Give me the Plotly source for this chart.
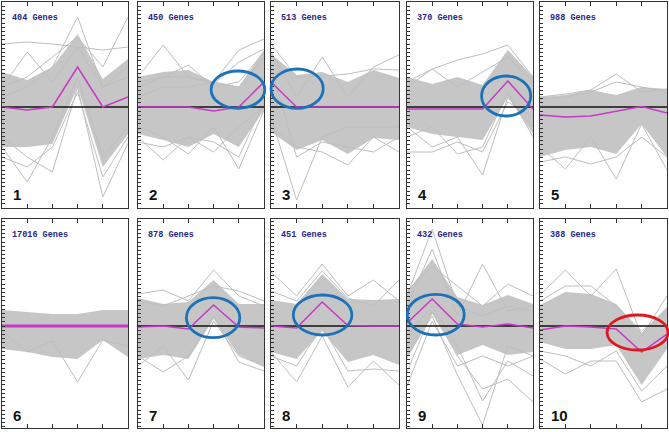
import plotly.graph_objects as go

# ---------------- data (units: expression change) ----------------
time_points = [0, 1, 2, 3, 4, 5]
x_tick_values = [1, 2, 3, 4]
gene_counts = [404, 450, 513, 370, 988, 17016, 878, 451, 432, 388]
panel_labels = ["1", "2", "3", "4", "5", "6", "7", "8", "9", "10"]
baseline = [0, 0, 0, 0, 0, 0]

mean_1 = [0, -0.3, 0, 4.0, 0, 1.0]
upper_1 = [3.5, 2.7, 4.0, 7.3, 2.8, 4.8]
lower_1 = [-4.0, -4.0, -3.7, 2.0, -6.0, -2.7]
outliers_1 = [[6.3, 6.5, 6.3, 6.0, 5.7, 6.0], [2, 3, 5, 7, 4, 9], [2, 5.5, 2.5, 6, 2, 4],
              [1, 2, 4, 9, 2, 3], [-4, -7.5, -3, 3, -5, -2], [-3, -5, -6.5, 2, -9, -3.6],
              [-5, -6, -4, 1.5, -7, -3]]

mean_2 = [0, 0, 0, -0.4, 0, 2.5]
upper_2 = [3.0, 3.5, 3.7, 2.5, 2.0, 5.7]
lower_2 = [-2.7, -3.3, -4.0, -2.7, -4.0, -0.3]
outliers_2 = [[3, 6.2, 3, 2.5, 2, 5], [2.5, 3, 4.2, 2, 2.5, 5.5], [1, 2, 2, 2.5, 5.7, 6.8],
              [2, 3, 3, 2.3, 4.5, 5.8], [-3, -5.3, -3, -4.5, -2, 0], [-2, -3, -4.7, -2, -6.2, -0.3],
              [-3.5, -4, -3, -3.5, -5, 0.5]]

mean_3 = [2.5, 0, 0, 0, 0, 0]
upper_3 = [5.3, 3.2, 3.5, 2.5, 3.7, 2.9]
lower_3 = [-2.5, -4.3, -3.3, -4.7, -3.1, -3.3]
outliers_3 = [[6.3, 3.0, 3.1, 3.3, 3.8, 3.7], [5.5, 1, 5, 1, 4, 5.2], [-1, -9.3, -3, -2, -2, -2],
              [-2, -4, -4.5, -5.8, -3, -4.5], [4, -5, -3.5, -4, -4.5, -3]]

mean_4 = [-0.2, -0.2, -0.2, -0.2, 2.6, -0.2]
upper_4 = [3.0, 2.3, 3.0, 2.2, 5.7, 3.0]
lower_4 = [-2.0, -2.7, -3.0, -3.3, 1.0, -2.7]
outliers_4 = [[2, 3.8, 4.7, 5.3, 6.2, 3], [2.5, 3.8, 2, 3.5, 5, 2.5], [-2, -4, -3, -6.8, 1, -2],
              [-3, -2, -4.7, -4, 1.5, -3], [-4.5, -4.5, -3.5, -4.5, 0.5, -1]]

mean_5 = [-0.8, -1.0, -0.9, -0.4, 0.05, -0.6]
upper_5 = [1.0, 1.2, 1.7, 1.2, 2.0, 1.8]
lower_5 = [-5.0, -4.3, -4.0, -4.7, -1.7, -5.0]
outliers_5 = [[1, 1.3, 1.7, 3.3, 1.5, 1.8], [0.8, 1, 1.5, 2.5, 2, 1.5],
              [-4, -6.2, -3, -7.2, -1.7, -6.3], [-5.5, -5, -5.7, -5, -3, -5]]

mean_6 = [0, 0, 0, 0, 0, 0]
upper_6 = [1.6, 1.4, 1.2, 1.2, 1.6, 1.6]
lower_6 = [-2.3, -2.6, -3.1, -3.3, -1.4, -3.1]
outliers_6 = [[-0.5, -2.6, -1.5, -5.6, -1.4, -2]]

mean_7 = [-0.1, 0, -0.3, 2.1, -0.1, -0.2]
upper_7 = [2.8, 2.2, 2.4, 4.6, 2.2, 2.2]
lower_7 = [-3.3, -2.9, -3.3, 0.7, -2.9, -4.1]
outliers_7 = [[3.2, 3.6, 2.5, 5.6, 3.0, 2.0], [2.5, 2.0, 3.0, 4.0, 3.5, 2.5],
              [-4, -2, -5.4, 0.5, -3, -4], [-3, -4.6, -3, 1, -3.6, -4.5]]

mean_8 = [0, -0.2, 2.4, 0.05, 0, 0]
upper_8 = [2.6, 2.2, 5.2, 2.7, 2.6, 2.7]
lower_8 = [-2.6, -3.3, -0.5, -3.6, -2.9, -3.9]
outliers_8 = [[5.4, 3, 6.2, 3, 4.6, 2.5], [3.5, 2.5, 5.5, 2.8, 2, 4.6],
              [-2.6, -5.6, -1, -6.1, -3.5, -5.9], [-3, -4, 0, -4.5, -4.3, -4.5]]

mean_9 = [0.3, 2.7, 0.2, -0.1, 0.2, -0.2]
upper_9 = [3.4, 6.7, 2.9, 2.1, 3.1, 2.2]
lower_9 = [-3.3, 1.2, -2.9, -1.9, -2.9, -2.6]
outliers_9 = [[3, 9.7, 2, 1, 2, 1.5], [2, 7.7, 1, 6.2, 1.5, 2], [3.5, 6, 4, 2, 4.2, 3],
              [-3, 1, -4.9, -9.9, -2, -3], [-4.6, 1.5, -3, -6.3, -5.3, -7.6],
              [-1, 2, -2, -7.5, -3.5, -5], [-6, 0.5, -4, -3, -4, -3]]

mean_10 = [-0.4, 0, -0.1, -0.3, -2.6, -0.8]
upper_10 = [2.1, 3.4, 3.2, 2.2, -0.7, 1.9]
lower_10 = [-1.6, -2.3, -2.3, -1.9, -5.9, -2.3]
outliers_10 = [[3.1, 5.6, 3, 5.7, -1, 3], [2.5, 4, 4, 2, -0.5, 1.5],
               [-3.3, -4.8, -3.5, -3.5, -7.6, -6.3], [-2.5, -3, -4, -2.5, -6.5, -4]]

# highlighted regions: (panel, time from, time to, value from, value to, colour key)
highlights = [(2, 2.9, 5.03, -0.13, 3.6, "blue"), (3, 0.0, 2.04, -0.13, 3.8, "blue"),
              (4, 2.96, 4.91, -0.9, 3.1, "blue"), (7, 1.92, 4.04, -1.17, 2.83, "blue"),
              (8, 0.87, 3.16, -0.9, 3.1, "blue"), (9, 0.01, 2.27, -0.9, 3.17, "blue"),
              (10, 2.64, 5.04, -2.4, 1.1, "red")]

means = [mean_1, mean_2, mean_3, mean_4, mean_5, mean_6, mean_7, mean_8, mean_9, mean_10]
uppers = [upper_1, upper_2, upper_3, upper_4, upper_5, upper_6, upper_7, upper_8, upper_9, upper_10]
lowers = [lower_1, lower_2, lower_3, lower_4, lower_5, lower_6, lower_7, lower_8, lower_9, lower_10]
outliers = [outliers_1, outliers_2, outliers_3, outliers_4, outliers_5, outliers_6,
            outliers_7, outliers_8, outliers_9, outliers_10]

# ---------------- layout geometry (pixels) ----------------
W, H = 669, 432
col_px = [(2, 128), (138, 264), (271, 399), (407, 533), (540, 667)]
row_px = [(2, 208), (219, 428)]
row_ranges = [[-10.1, 10.5], [-10.2, 10.7]]

GRAY = "#c6c6c6"
LINE_GRAY = "#bebebe"
MAGENTA = "#c63ac6"
RING = {"blue": "#1c72b8", "red": "#e2161e"}

fig = go.Figure()
layout = dict(width=W, height=H, margin=dict(l=0, r=0, t=0, b=0),
              paper_bgcolor="white", plot_bgcolor="white", showlegend=False)
annotations = []
shapes = []

for i in range(10):
    n = i + 1
    r, c = divmod(i, 5)
    xa = "x" if n == 1 else f"x{n}"
    ya = "y" if n == 1 else f"y{n}"
    x0p, x1p = col_px[c]
    y0p, y1p = row_px[r]
    layout[f"xaxis{'' if n == 1 else n}"] = dict(
        domain=[x0p / W, x1p / W], anchor=ya, range=[0, 5],
        tickvals=x_tick_values, ticks="inside", ticklen=4, tickcolor="#333",
        showticklabels=False, showgrid=False, zeroline=False,
        showline=True, linecolor="#333", linewidth=1.2, mirror="ticks")
    layout[f"yaxis{'' if n == 1 else n}"] = dict(
        domain=[1 - y1p / H, 1 - y0p / H], anchor=xa, range=row_ranges[r],
        tick0=0, dtick=0.42, ticks="inside", ticklen=3, tickcolor="#333",
        showticklabels=False, showgrid=False, zeroline=False,
        showline=True, linecolor="#333", linewidth=1.2, mirror=True)

    # dense band of gene profiles
    fig.add_trace(go.Scatter(x=time_points + time_points[::-1],
                             y=uppers[i] + lowers[i][::-1],
                             fill="toself", fillcolor=GRAY, line=dict(width=0),
                             mode="lines", xaxis=xa, yaxis=ya, hoverinfo="skip"))
    for prof in outliers[i]:
        fig.add_trace(go.Scatter(x=time_points, y=prof, mode="lines",
                                 line=dict(color=LINE_GRAY, width=1), xaxis=xa, yaxis=ya,
                                 hoverinfo="skip"))
    # baseline
    fig.add_trace(go.Scatter(x=time_points, y=baseline, mode="lines",
                             line=dict(color="#111", width=1.3), xaxis=xa, yaxis=ya,
                             hoverinfo="skip"))
    # cluster mean
    fig.add_trace(go.Scatter(x=time_points, y=means[i], mode="lines",
                             line=dict(color=MAGENTA, width=3 if n == 6 else 1.5),
                             xaxis=xa, yaxis=ya))

    ph = y1p - y0p
    annotations.append(dict(text=f"<b>{gene_counts[i]} Genes</b>", xref=f"{xa} domain",
                            yref=f"{ya} domain", x=8 / (x1p - x0p), y=1 - 16 / ph,
                            xanchor="left", yanchor="middle", showarrow=False,
                            font=dict(family="Liberation Mono", size=8.5, color="#27278a")))
    annotations.append(dict(text=f"<b>{panel_labels[i]}</b>", xref=f"{xa} domain",
                            yref=f"{ya} domain", x=9 / (x1p - x0p), y=13 / ph,
                            xanchor="left", yanchor="middle", showarrow=False,
                            font=dict(family="Liberation Sans", size=15, color="#111")))

for (p, t0, t1, v0, v1, col) in highlights:
    r = (p - 1) // 5
    lo, hi = row_ranges[r]
    xa = "x" if p == 1 else f"x{p}"
    ya = "y" if p == 1 else f"y{p}"
    shapes.append(dict(type="circle", xref=f"{xa} domain", yref=f"{ya} domain",
                       x0=t0 / 5, x1=t1 / 5, y0=(v0 - lo) / (hi - lo), y1=(v1 - lo) / (hi - lo),
                       line=dict(color=RING[col], width=2.8), layer="above"))

layout["annotations"] = annotations
layout["shapes"] = shapes
fig.update_layout(**layout)
fig.write_html("out.html", config={"displayModeBar": False},
               post_script="document.body.style.margin='0';document.body.style.padding='0';"
                           "document.documentElement.style.overflow='hidden';")
